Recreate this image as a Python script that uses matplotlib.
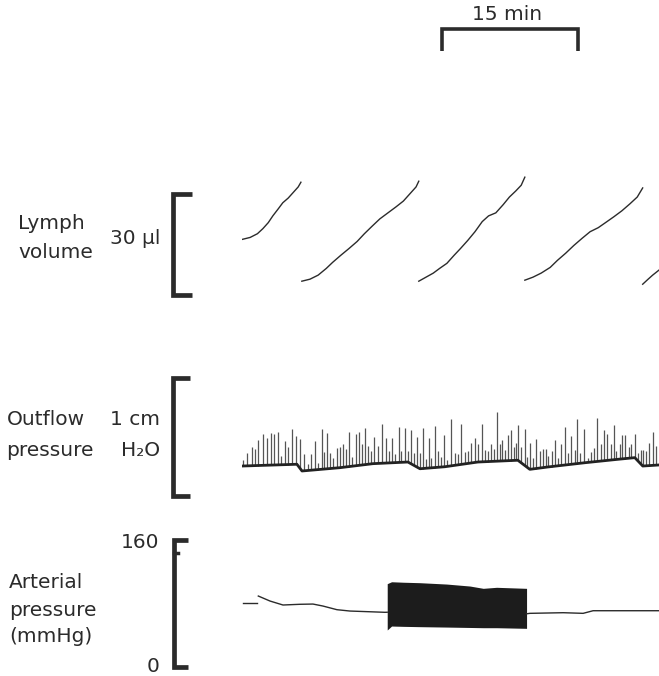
import matplotlib.pyplot as plt
import numpy as np
from matplotlib.transforms import blended_transform_factory

# ---- data (time in min from start of trace) ----
# lymph volume (ul), one list per collection period
lymph_t = [
    [0, 0.9, 1.7, 2.3, 2.9, 3.4, 4.0, 4.5, 5.1, 5.6, 6.2, 6.5],
    [6.6, 7.5, 8.4, 9.3, 10.0, 10.9, 11.8, 12.7, 13.5, 14.3, 15.2, 16.1, 17.0, 17.8, 18.5, 19.2, 19.5],
    [19.5, 20.3, 21.1, 21.8, 22.6, 23.4, 24.1, 24.9, 25.7, 26.5, 27.2, 28.0, 28.8, 29.5, 30.2, 30.8, 31.2],
    [31.2, 32.1, 33.0, 34.0, 34.8, 35.7, 36.6, 37.5, 38.4, 39.3, 40.1, 41.0, 41.9, 42.8, 43.6, 44.2],
    [44.2, 44.8, 45.3, 46.0],
]
lymph_v = [
    [16.5, 17.1, 18.2, 19.7, 21.5, 23.5, 25.6, 27.4, 28.8, 30.3, 32.1, 33.5],
    [4.1, 4.7, 5.9, 7.9, 9.7, 11.8, 13.8, 15.9, 18.2, 20.3, 22.6, 24.4, 26.2, 27.9, 30.0, 32.1, 33.8],
    [4.1, 5.3, 6.5, 7.9, 9.4, 11.8, 13.8, 16.2, 18.8, 21.8, 23.5, 24.4, 26.8, 29.1, 30.9, 32.6, 35.0],
    [4.4, 5.3, 6.5, 8.2, 10.3, 12.4, 14.7, 16.8, 18.8, 20.0, 21.5, 23.2, 25.0, 27.1, 29.1, 31.8],
    [3.2, 4.7, 5.9, 7.4],
]

# outflow pressure (cm H2O): baseline and pulse peaks
base_t = [0, 6.06, 6.62, 10.80, 14.44, 18.30, 19.63, 22.38, 26.02, 30.43, 31.75,
          33.74, 37.82, 41.46, 43.33, 44.21, 46.0]
base_v = [0.254, 0.269, 0.212, 0.240, 0.274, 0.288, 0.231, 0.248, 0.288, 0.303, 0.226,
          0.246, 0.282, 0.311, 0.325, 0.254, 0.263]
spike_t = [0.15, 0.59, 1.07, 1.43, 1.80, 2.28, 2.72, 3.20, 3.56, 3.93, 4.30, 4.74, 5.11, 5.48,
           5.95, 6.39, 6.87, 7.24, 7.57, 8.05, 8.41, 8.79, 9.04, 9.41, 9.70, 10.07, 10.44, 10.80,
           11.10, 11.47, 11.76, 12.16, 12.57, 12.90, 13.23, 13.60, 13.86, 14.22, 14.59,
           14.99, 15.44, 15.91, 16.21, 16.54, 16.91, 17.28, 17.57, 17.94, 18.30, 18.60, 18.96,
           19.26, 19.59, 19.96, 20.25, 20.58, 20.87, 21.25, 21.61, 21.90, 22.27, 22.60, 23.01,
           23.45, 23.81, 24.18, 24.55, 24.92, 25.28, 25.66, 26.02, 26.46, 26.76, 27.12, 27.42,
           27.75, 28.08, 28.41, 28.67, 28.96, 29.33, 29.63, 29.99, 30.28,
           30.43, 30.80, 31.17, 31.46, 31.75, 32.08, 32.38, 32.82, 33.19, 33.55, 33.81, 34.18,
           34.48, 34.84, 35.21, 35.58, 35.94, 36.31, 36.68, 36.97, 37.34, 37.71, 38.15, 38.51,
           38.88, 39.17, 39.62, 39.91, 40.28, 40.65, 41.01, 41.31, 41.68, 41.97, 42.26, 42.64,
           42.92, 43.30, 43.66, 43.96, 44.25, 44.54, 44.95, 45.35, 45.68]
spike_top = [0.303, 0.367, 0.415, 0.396, 0.472, 0.523, 0.489, 0.537, 0.528, 0.542, 0.339, 0.466,
             0.415, 0.565, 0.508, 0.480, 0.353, 0.269, 0.353, 0.466, 0.282, 0.570, 0.375, 0.531,
             0.367, 0.325, 0.404, 0.415, 0.443, 0.396, 0.542, 0.331, 0.523, 0.545, 0.438, 0.579,
             0.424, 0.381, 0.500,
             0.424, 0.607, 0.494, 0.381, 0.489, 0.353, 0.585, 0.381, 0.573, 0.381, 0.559, 0.367,
             0.500, 0.367, 0.579, 0.311, 0.494, 0.325, 0.593, 0.381, 0.331, 0.517, 0.303, 0.650,
             0.367, 0.353, 0.613, 0.375, 0.381, 0.446, 0.489, 0.443, 0.613, 0.387, 0.381, 0.438,
             0.401, 0.714, 0.438, 0.472, 0.387, 0.517, 0.559, 0.415, 0.452,
             0.602, 0.415, 0.570, 0.331, 0.452, 0.319, 0.480, 0.381, 0.401, 0.401, 0.339, 0.381,
             0.475, 0.325, 0.443, 0.585, 0.367, 0.508, 0.387, 0.650, 0.367, 0.570, 0.325, 0.375,
             0.409, 0.658, 0.438, 0.556, 0.523, 0.443, 0.602, 0.381, 0.443, 0.514, 0.517, 0.415,
             0.438, 0.523, 0.367, 0.390, 0.387, 0.381, 0.446, 0.542, 0.424]

# arterial pressure (mmHg)
art1_t = [0.1, 1.7]
art1_p = [80.2, 80.2]
art2_t = [1.8, 3.09, 4.52, 6.39, 7.83, 8.93, 10.47, 11.91, 14.11, 15.77, 16.02]
art2_p = [89.4, 83.1, 78.1, 79.0, 79.3, 76.8, 72.2, 70.5, 69.6, 68.9, 69.0]
block_t = [16.02, 16.50, 17.79, 19.63, 22.57, 25.14, 26.61, 28.08, 31.39]
block_hi = [105.0, 107.4, 106.8, 106.2, 104.5, 102.0, 99.1, 100.4, 99.1]
block_lo = [46.6, 51.6, 51.2, 50.8, 50.3, 49.8, 49.5, 49.5, 48.7]
art3_t = [31.39, 31.75, 35.43, 37.63, 38.73, 42.78, 46.0]
art3_p = [67.0, 67.6, 68.4, 67.6, 70.9, 70.9, 70.9]

bar_start, bar_len = 22.05, 15

# ---- figure ----
W, H = 659, 676
ink = '#2b2b2b'
fig = plt.figure(figsize=(W / 100, H / 100), dpi=100)
fig.patch.set_facecolor('white')


def panel(y0_px, ppu, lo, hi):
    bot = y0_px - lo * ppu
    top = y0_px - hi * ppu
    ax = fig.add_axes([242 / W, 1 - bot / H, 417 / W, (bot - top) / H])
    ax.set_xlim(0, 46)
    ax.set_ylim(lo, hi)
    ax.axis('off')
    return ax


def bracket(ax, x_px, arm_px, lo, hi):
    tr = blended_transform_factory(fig.transFigure, ax.transData)
    ax.plot([arm_px / W, x_px / W, x_px / W, arm_px / W], [hi, hi, lo, lo], color=ink, lw=3.4,
            transform=tr, clip_on=False, solid_joinstyle='miter', solid_capstyle='butt')
    return tr


ax1 = panel(295, 101 / 30, -2, 40)
ax2 = panel(496, 118, -0.05, 1.1)
ax3 = panel(667, 127 / 160, -8, 170)

# lymph volume
for t, v in zip(lymph_t, lymph_v):
    ax1.plot(t, v, color=ink, lw=1.0)
bracket(ax1, 173, 192, 0, 30)

# outflow pressure
sb = np.interp(spike_t, base_t, base_v)
ax2.vlines(spike_t, sb, spike_top, color='#555555', lw=0.9)
ax2.plot(base_t, base_v, color='#222222', lw=2.0, solid_joinstyle='round')
bracket(ax2, 173, 190, 0, 1)

# arterial pressure
ax3.plot(art1_t, art1_p, color=ink, lw=1.0)
ax3.plot(art2_t, art2_p, color=ink, lw=1.0)
ax3.plot(art3_t, art3_p, color=ink, lw=1.0)
ax3.fill_between(block_t, block_lo, block_hi, color='#1c1c1c', lw=0)
tr3 = bracket(ax3, 174, 188, 0, 160)
ax3.plot([174 / W, 178 / W], [143.5, 143.5], color=ink, lw=2.5, transform=tr3, clip_on=False)

# time scale bar
trb = blended_transform_factory(ax1.transData, fig.transFigure)
ax1.plot([bar_start, bar_start, bar_start + bar_len, bar_start + bar_len],
         [1 - 51 / H, 1 - 29 / H, 1 - 29 / H, 1 - 51 / H], color=ink, lw=2.6,
         transform=trb, clip_on=False, solid_joinstyle='miter', solid_capstyle='butt')
fig.text(507 / W, 1 - 15 / H, '15 min', ha='center', va='center', fontsize=14.5, color=ink)

# labels
fs = 14.5
labels = [
    (18, 223, 'Lymph', 'left'), (18, 253, 'volume', 'left'), (160, 238, '30 µl', 'right'),
    (7, 420, 'Outflow', 'left'), (6, 451, 'pressure', 'left'),
    (160, 420, '1 cm', 'right'), (160, 451, 'H₂O', 'right'),
    (159, 542, '160', 'right'), (9, 583, 'Arterial', 'left'), (9, 610, 'pressure', 'left'),
    (9, 637, '(mmHg)', 'left'), (159, 667, '0', 'right'),
]
for x, y, s, ha in labels:
    fig.text(x / W, 1 - y / H, s, ha=ha, va='center', fontsize=fs, color=ink)

fig.savefig('out.png', dpi=100, facecolor='white')
